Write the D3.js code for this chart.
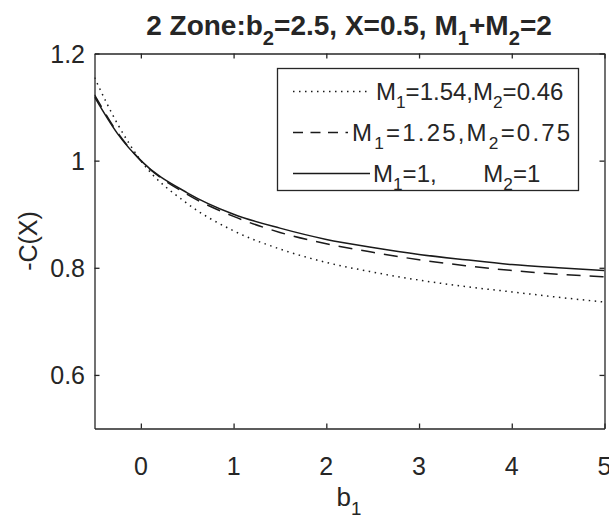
<!DOCTYPE html>
<html>
<head>
<meta charset="utf-8">
<script src="https://cdn.jsdelivr.net/npm/d3@7"></script>
<style>
  body { margin: 0; background: #fff; }
  text { font-family: "Liberation Sans", Arial, Helvetica, sans-serif; fill: #262626; }
</style>
</head>
<body>
<script>
// data
var b1 = [-0.5, -0.25, 0, 0.5, 1, 1.5, 2, 2.5, 3, 3.5, 4, 4.5, 5];
var cDotted = [1.155, 1.068, 1.0, 0.920, 0.869, 0.835, 0.810, 0.792, 0.777, 0.765, 0.755, 0.745, 0.736];
var cDashed = [1.123, 1.052, 1.0, 0.937, 0.896, 0.866, 0.845, 0.829, 0.815, 0.804, 0.795, 0.788, 0.783];
var cSolid  = [1.119, 1.050, 1.0, 0.940, 0.900, 0.874, 0.853, 0.838, 0.825, 0.815, 0.806, 0.800, 0.795];
var xTicks = [0, 1, 2, 3, 4, 5];
var yTicks = [0.6, 0.8, 1, 1.2];

var width = 609, height = 518;
var pLeft = 94.5, pRight = 604.5, pTop = 53.5, pBottom = 428.5;

var svg = d3.select("body").append("svg")
            .attr("width", width)
            .attr("height", height);

var x = d3.scaleLinear().domain([-0.5, 5]).range([pLeft, pRight]);
var y = d3.scaleLinear().domain([0.5, 1.2]).range([pBottom, pTop]);

// box + inward ticks on all four sides (matlab style)
var tickLen = 5;
var axisCol = "#262626";
function styleAxis(g) {
  g.selectAll("line,path").attr("stroke", axisCol).attr("stroke-width", 1.3);
}
svg.append("g").attr("transform", "translate(0," + pBottom + ")")
   .call(d3.axisBottom(x).tickValues(xTicks).tickSize(-tickLen).tickSizeOuter(0).tickFormat(""))
   .call(styleAxis);
svg.append("g").attr("transform", "translate(0," + pTop + ")")
   .call(d3.axisTop(x).tickValues(xTicks).tickSize(-tickLen).tickSizeOuter(0).tickFormat(""))
   .call(styleAxis);
svg.append("g").attr("transform", "translate(" + pLeft + ",0)")
   .call(d3.axisLeft(y).tickValues(yTicks).tickSize(-tickLen).tickSizeOuter(0).tickFormat(""))
   .call(styleAxis);
svg.append("g").attr("transform", "translate(" + pRight + ",0)")
   .call(d3.axisRight(y).tickValues(yTicks).tickSize(-tickLen).tickSizeOuter(0).tickFormat(""))
   .call(styleAxis);

// tick labels
svg.append("g").selectAll("text").data(xTicks).enter().append("text")
   .attr("x", function (d) { return x(d); })
   .attr("y", 475)
   .attr("text-anchor", "middle")
   .style("font-size", "25px")
   .text(function (d) { return d; });
svg.append("g").selectAll("text").data(yTicks).enter().append("text")
   .attr("x", 85)
   .attr("y", function (d) { return y(d) + 9; })
   .attr("text-anchor", "end")
   .style("font-size", "25px")
   .text(function (d) { return d === 1 ? "1" : d3.format(".1f")(d); });

// text with subscripts: parts = [[str, flag], ...] flag 1 = go down into subscript, 2 = come back up
function richText(sel, parts, size) {
  parts.forEach(function (p) {
    sel.append("tspan")
       .style("font-size", (p[1] === 1 ? size * 0.72 : size) + "px")
       .attr("dy", p[1] === 1 ? size * 0.35 : (p[1] === 2 ? -size * 0.35 : 0))
       .text(p[0]);
  });
}

// title
var title = svg.append("text").attr("x", 349).attr("y", 35)
               .attr("text-anchor", "middle").style("font-weight", "bold");
richText(title, [["2 Zone:b", 0], ["2", 1], ["=2.5, X=0.5, M", 2], ["1", 1], ["+M", 2], ["2", 1], ["=2", 2]], 28);

// axis labels
var xl = svg.append("text").attr("x", 349).attr("y", 506).attr("text-anchor", "middle");
richText(xl, [["b", 0], ["1", 1]], 26);
svg.append("text")
   .attr("transform", "translate(37," + ((pTop + pBottom) / 2) + ") rotate(-90)")
   .attr("text-anchor", "middle")
   .style("font-size", "25px")
   .text("-C(X)");

// curves
var nb = "\u00a0";
var series = [
  { values: cDotted, dash: "1.5,4.5", legDash: "1.5,4.5", legEnd: 367, textX: 376, spacing: 0,
    name: [["M", 0], ["1", 1], ["=1.54,M", 2], ["2", 1], ["=0.46", 2]] },
  { values: cDashed, dash: "14,9", legDash: "10,7.5", legEnd: 348, textX: 352, spacing: 2.2,
    name: [["M", 0], ["1", 1], ["=1.25,M", 2], ["2", 1], ["=0.75", 2]] },
  { values: cSolid, dash: null, legDash: null, legEnd: 370, textX: 373, spacing: 0,
    name: [["M", 0], ["1", 1], ["=1," + nb + nb + nb + nb + nb + nb + nb + "M", 2], ["2", 1], ["=1", 2]] }
];

var line = d3.line()
             .x(function (d) { return x(d[0]); })
             .y(function (d) { return y(d[1]); })
             .curve(d3.curveMonotoneX);

svg.append("defs").append("clipPath").attr("id", "plotclip")
   .append("rect").attr("x", pLeft).attr("y", pTop).attr("width", pRight - pLeft).attr("height", pBottom - pTop);

svg.append("g").attr("clip-path", "url(#plotclip)")
   .selectAll("path").data(series).enter().append("path")
   .attr("d", function (s) { return line(b1.map(function (b, i) { return [b, s.values[i]]; })); })
   .attr("fill", "none")
   .attr("stroke", "#1a1a1a")
   .attr("stroke-width", 1.5)
   .attr("stroke-dasharray", function (s) { return s.dash; });

// legend
var lg = svg.append("g");
lg.append("rect").attr("x", 277.5).attr("y", 68.5).attr("width", 301).attr("height", 122)
  .attr("fill", "#fff").attr("stroke", axisCol).attr("stroke-width", 1.3);
var rows = [100, 141, 182];
series.forEach(function (s, i) {
  lg.append("line")
    .attr("x1", 293).attr("x2", s.legEnd)
    .attr("y1", rows[i] - 8.5).attr("y2", rows[i] - 8.5)
    .attr("stroke", "#1a1a1a").attr("stroke-width", 1.5)
    .attr("stroke-dasharray", s.legDash);
  var t = lg.append("text").attr("x", s.textX).attr("y", rows[i])
            .style("letter-spacing", s.spacing + "px");
  richText(t, s.name, 24);
});
</script>
</body>
</html>
